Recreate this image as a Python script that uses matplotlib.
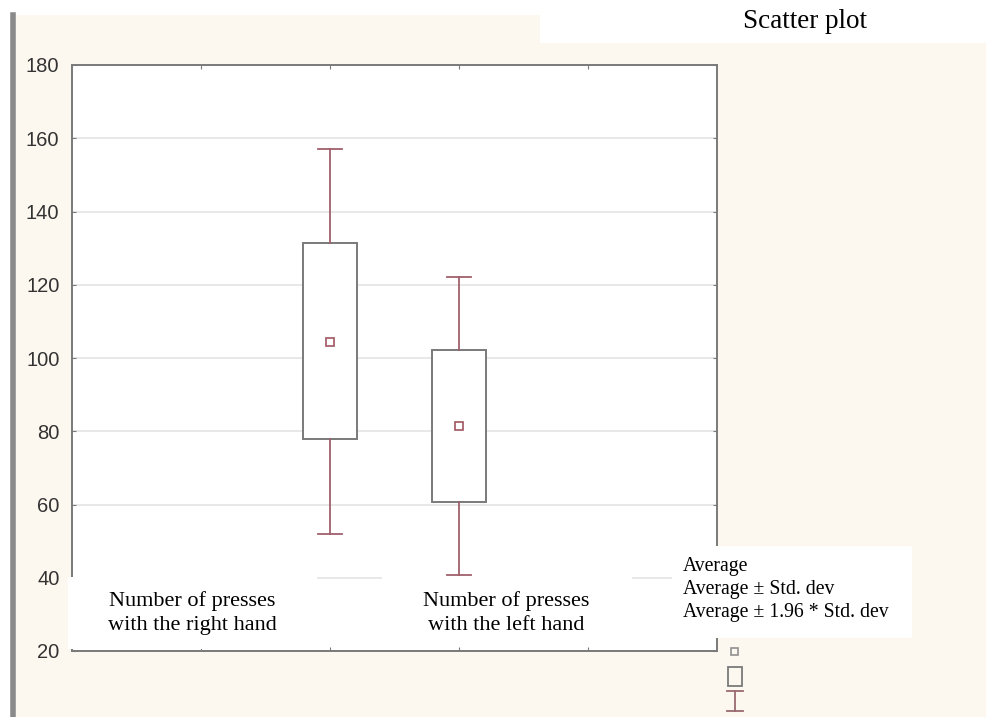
import matplotlib
matplotlib.use("Agg")
import matplotlib.pyplot as plt
from matplotlib.patches import Rectangle
from matplotlib.lines import Line2D

# ---- data ----
categories = ["Number of presses\nwith the right hand", "Number of presses\nwith the left hand"]
positions = [2, 3]
means = [104.4, 81.4]
sd_low = [77.8, 60.8]
sd_high = [131.4, 102.2]
ci_low = [51.9, 40.8]
ci_high = [157.2, 122.2]
yticks = [20, 40, 60, 80, 100, 120, 140, 160, 180]
legend_labels = ["Average", "Average \u00b1 Std. dev", "Average \u00b1 1.96 * Std. dev"]
title = "Scatter plot"

W, H = 987, 717
fig = plt.figure(figsize=(W / 100, H / 100), dpi=100)
fig.patch.set_facecolor("white")

def px(x0, y0, x1, y1):
    """pixel box (top-left origin) -> figure fraction rect"""
    return (x0 / W, 1 - y1 / H, (x1 - x0) / W, (y1 - y0) / H)

cream = "#fdf8ef"
x, y, w, h = px(15, 15, 987, 717)
fig.add_artist(Rectangle((x, y), w, h, transform=fig.transFigure, facecolor=cream, edgecolor="none", zorder=0))
x, y, w, h = px(540, 0, 987, 43)
fig.add_artist(Rectangle((x, y), w, h, transform=fig.transFigure, facecolor="white", edgecolor="none", zorder=0))
fig.add_artist(Line2D([13 / W, 13 / W], [1 - 15 / H, 0], transform=fig.transFigure, color="#8a8a8a", lw=4, zorder=1))

ax = fig.add_axes([72 / W, 1 - 651 / H, (717 - 72) / W, (651 - 65) / H])
ax.set_facecolor("white")

spine_c = "#7a7a7a"
for s in ax.spines.values():
    s.set_color(spine_c)
    s.set_linewidth(1.4)

whisk_c = "#a0606c"
box_c = "#7a7a7a"
stats = []
for i in range(len(positions)):
    stats.append(dict(med=means[i], q1=sd_low[i], q3=sd_high[i], whislo=ci_low[i],
                      whishi=ci_high[i], mean=means[i], fliers=[]))
ax.bxp(stats, positions=positions, widths=0.42, showmeans=True, showfliers=False,
       patch_artist=True,
       boxprops=dict(facecolor="white", edgecolor=box_c, lw=1.4),
       whiskerprops=dict(color=whisk_c, lw=1.3),
       capprops=dict(color=whisk_c, lw=1.3),
       capwidths=0.19,
       medianprops=dict(visible=False),
       meanprops=dict(marker="s", markersize=5.5, markerfacecolor="white",
                      markeredgecolor="#a05560", markeredgewidth=1.2))

ax.set_xlim(0, 5)
ax.set_ylim(20, 180)
ax.set_yticks(yticks)
ax.set_xticks([1, 2, 3, 4])
ax.set_xticklabels([])
ax.tick_params(axis="y", which="both", direction="in", length=3, color=spine_c,
               labelsize=14.5, labelcolor="#333333", right=True, pad=9)
ax.tick_params(axis="x", direction="in", length=3, color=spine_c, top=True)
for lab in ax.get_yticklabels():
    lab.set_fontfamily("Liberation Sans")
ax.yaxis.grid(True, color="#e4e4e4", lw=1.2)
ax.set_axisbelow(True)

serif = "Liberation Serif"
label_boxes = [(68, 577, 317, 649), (382, 577, 632, 640)]
label_cx = [192, 506]
for (x0, y0, x1, y1), cx, txt in zip(label_boxes, label_cx, categories):
    x, y, w, h = px(x0, y0, x1, y1)
    fig.add_artist(Rectangle((x, y), w, h, transform=fig.transFigure, facecolor="white", edgecolor="none", zorder=5))
    fig.text(cx / W, 1 - 613 / H, txt, ha="center", va="center", fontsize=16,
             family=serif, linespacing=1.4, zorder=6)

x, y, w, h = px(672, 546, 912, 638)
fig.add_artist(Rectangle((x, y), w, h, transform=fig.transFigure, facecolor="white", edgecolor="none", zorder=5))
for i, t in enumerate(legend_labels):
    fig.text(683 / W, 1 - (567 + i * 22.5) / H, t, ha="left", va="center", fontsize=14.2,
             family=serif, zorder=6)

lx = 735
fig.add_artist(Rectangle(((lx - 3.5) / W, 1 - 655 / H), 7 / W, 7 / H, transform=fig.transFigure,
                         facecolor="none", edgecolor="#909090", lw=1.2, zorder=6))
fig.add_artist(Rectangle(((lx - 7) / W, 1 - 686 / H), 14 / W, 19 / H, transform=fig.transFigure,
                         facecolor="none", edgecolor="#7a7a7a", lw=1.3, zorder=6))
fig.add_artist(Line2D([(lx - 8) / W, (lx + 8) / W], [1 - 691 / H, 1 - 691 / H], transform=fig.transFigure, color="#9a6a70", lw=1.3, zorder=6))
fig.add_artist(Line2D([lx / W, lx / W], [1 - 691 / H, 1 - 711 / H], transform=fig.transFigure, color="#9a6a70", lw=1.3, zorder=6))
fig.add_artist(Line2D([(lx - 8) / W, (lx + 8) / W], [1 - 711 / H, 1 - 711 / H], transform=fig.transFigure, color="#9a6a70", lw=1.3, zorder=6))

fig.text(805 / W, 1 - 21 / H, title, ha="center", va="center", fontsize=19.5, family=serif)

fig.savefig("out.png", dpi=100)
